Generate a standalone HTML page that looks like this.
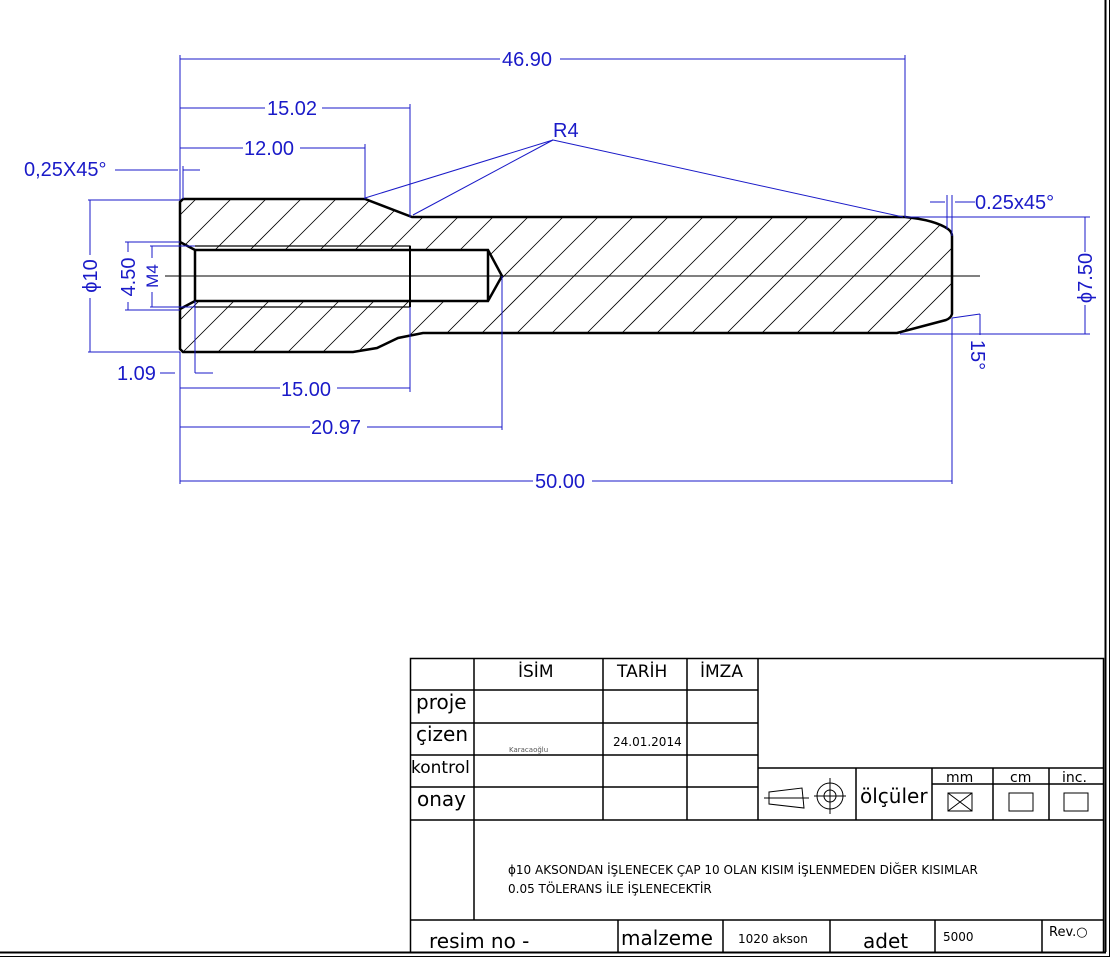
<!DOCTYPE html>
<html><head><meta charset="utf-8"><style>
html,body{margin:0;padding:0;background:#fff;}
svg{display:block;}
.d{stroke:#1a1ac8;stroke-width:1;fill:none;}
.t{fill:#1a1ac8;font-family:"Liberation Sans",sans-serif;font-size:20px;}
.k{stroke:#000;fill:none;}
.b{font-family:"DejaVu Sans","Liberation Sans",sans-serif;fill:#000;}
</style></head><body>
<svg width="1110" height="959" viewBox="0 0 1110 959" xmlns="http://www.w3.org/2000/svg">
<defs>
<clipPath id="c"><path clip-rule="evenodd" d="M183,199 L365,199 L412,217 L905,217 Q935,220 948,229 Q952,232 952,236 L952,314 Q951,318 946,320 L897,333 L423,333 L398,338 L377,348 L353,352 L183,352 L180,349 L180,202 Z M180,242 L195,250 L488,250 L502,276 L488,301 L195,301 L180,309 Z"/></clipPath>
</defs>
<line x1="1105.5" y1="0" x2="1105.5" y2="952" stroke="#000" stroke-width="2"/>
<line x1="1109.5" y1="0" x2="1109.5" y2="957" stroke="#000" stroke-width="1"/>
<line x1="0" y1="952.5" x2="1106" y2="952.5" stroke="#000" stroke-width="2"/>
<line x1="0" y1="956.5" x2="1110" y2="956.5" stroke="#000" stroke-width="1"/>

<g clip-path="url(#c)" stroke="#000" stroke-width="0.8">
<path d="M0,360 l170,-170 M35,360 l170,-170 M70,360 l170,-170 M105,360 l170,-170 M140,360 l170,-170 M175,360 l170,-170 M210,360 l170,-170 M245,360 l170,-170 M280,360 l170,-170 M315,360 l170,-170 M350,360 l170,-170 M385,360 l170,-170 M420,360 l170,-170 M455,360 l170,-170 M490,360 l170,-170 M525,360 l170,-170 M560,360 l170,-170 M595,360 l170,-170 M630,360 l170,-170 M665,360 l170,-170 M700,360 l170,-170 M735,360 l170,-170 M770,360 l170,-170 M805,360 l170,-170 M840,360 l170,-170 M875,360 l170,-170 M910,360 l170,-170"/>
</g>
<path class="k" stroke-width="2.5" d="M183,199 L365,199 L412,217 L905,217 Q935,220 948,229 Q952,232 952,236 L952,314 Q951,318 946,320 L897,333 L423,333 L398,338 L377,348 L353,352 L183,352 L180,349 L180,202 Z"/>
<path class="k" stroke-width="2.5" d="M180,242 L195,250 L488,250 L502,276 L488,301 L195,301 L180,309 M195,250 L195,301 M488,250 L488,301"/>
<path class="k" stroke-width="1.2" d="M195,246 L410,246 L410,307 L195,307"/>
<line x1="410" y1="246" x2="410" y2="307" stroke="#000" stroke-width="2"/>
<line x1="165" y1="276" x2="980" y2="276" stroke="#000" stroke-width="1"/>

<g class="d">
<path d="M180,55 V200 M905,55 V217 M180,59 H500 M560,59 H905"/>
<path d="M410,104 V217 M180,108 H265 M322,108 H410"/>
<path d="M365,144 V199 M180,148 H243 M300,148 H365"/>
<path d="M115,170 H178 M183,170 H200 M183,166 V199"/>
<path d="M553,140 L365,198 M553,140 L413,215 M553,140 L903,217"/>
<path d="M88,200 H180 M88,352 H180 M90,200 V255 M90,298 V352"/>
<path d="M125,242 H180 M125,310 H180 M128,242 V252 M128,302 V310"/>
<path d="M150,246 H195 M150,307 H195 M152,246 V258 M152,292 V307"/>
<path d="M160,373 H175 M195,301 V373 M195,373 H213"/>
<path d="M180,352 V484 M180,388 H280 M337,388 H410 M410,307 V392"/>
<path d="M502,276 V430 M180,427 H310 M367,427 H502"/>
<path d="M952,318 V484 M180,481 H533 M592,481 H952"/>
<path d="M930,202 H945 M947,195 V229 M952,195 V236 M955,202 H975"/>
<path d="M905,217 H1090 M900,334 H1090 M1085,217 V252 M1085,305 V334"/>
<path d="M952,318 L980,314 M980,314 V335"/>
</g>
<g class="t">
<text x="502" y="66">46.90</text>
<text x="267" y="115">15.02</text>
<text x="244" y="155">12.00</text>
<text x="24" y="176">0,25X45°</text>
<text x="553" y="137">R4</text>
<text x="117" y="380">1.09</text>
<text x="281" y="396">15.00</text>
<text x="311" y="434">20.97</text>
<text x="535" y="488">50.00</text>
<text x="975" y="209">0.25x45°</text>
<text transform="translate(97,276) rotate(-90)" text-anchor="middle">ϕ10</text>
<text transform="translate(135,277) rotate(-90)" text-anchor="middle">4.50</text>
<text transform="translate(158,276) rotate(-90)" text-anchor="middle" font-size="17">M4</text>
<text transform="translate(1092,278) rotate(-90)" text-anchor="middle">ϕ7.50</text>
<text transform="translate(971,355) rotate(90)" text-anchor="middle">15°</text>
</g>

<g stroke="#000" stroke-width="1.5" fill="none">
<rect x="410.5" y="658.5" width="693" height="294"/>
<path d="M474,658 V920 M603,658 V820 M687,658 V820 M758,658 V820"/>
<path d="M410,690 H758 M410,723 H758 M410,755 H758 M410,787 H758 M410,820 H1103 M410,920 H1103"/>
<path d="M758,768 H1103 M932,784 H1103 M856,768 V820 M932,768 V820 M993,768 V820 M1049,768 V820"/>
<path d="M618,920 V952 M723,920 V952 M830,920 V952 M935,920 V952 M1042,920 V952"/>
</g>
<g stroke="#000" stroke-width="1" fill="none">
<path d="M769,792 L802,788 L804,808 L769,804 Z M764,798 H809"/>
<circle cx="830" cy="796" r="13"/><circle cx="830" cy="796" r="6"/>
<path d="M814,796 H846 M830,778 V814"/>
<rect x="948" y="793" width="24" height="18"/><path d="M948,793 L972,811 M972,793 L948,811"/>
<rect x="1009" y="793" width="24" height="18"/>
<rect x="1064" y="793" width="24" height="18"/>
</g>
<g class="b">
<text x="518" y="677" font-size="17">İSİM</text>
<text x="617" y="677" font-size="17">TARİH</text>
<text x="700" y="677" font-size="17">İMZA</text>
<text x="416" y="709" font-size="20">proje</text>
<text x="416" y="741" font-size="20">çizen</text>
<text x="411" y="773" font-size="17">kontrol</text>
<text x="417" y="806" font-size="20">onay</text>
<text x="613" y="746" font-size="12">24.01.2014</text>
<text x="509" y="752" font-size="7" fill="#555">Karacaoğlu</text>
<text x="860" y="803" font-size="20">ölçüler</text>
<text x="946" y="782" font-size="14">mm</text>
<text x="1010" y="782" font-size="14">cm</text>
<text x="1062" y="782" font-size="14">inc.</text>
<text x="508" y="874" font-size="12">ϕ10 AKSONDAN İŞLENECEK ÇAP 10 OLAN KISIM İŞLENMEDEN DİĞER KISIMLAR</text>
<text x="508" y="893" font-size="12">0.05 TÖLERANS İLE İŞLENECEKTİR</text>
<text x="429" y="948" font-size="20">resim no -</text>
<text x="621" y="945" font-size="20">malzeme</text>
<text x="738" y="943" font-size="12">1020 akson</text>
<text x="863" y="948" font-size="20">adet</text>
<text x="943" y="941" font-size="12">5000</text>
<text x="1049" y="936" font-size="13">Rev.○</text>
</g>
</svg>
</body></html>
